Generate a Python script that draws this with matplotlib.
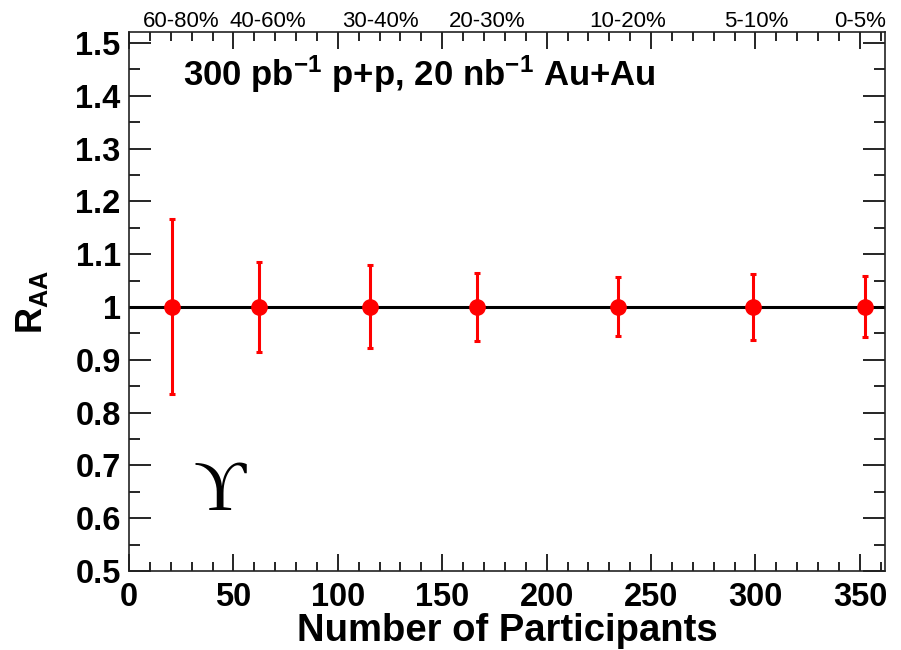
import matplotlib
matplotlib.use("Agg")
import matplotlib.pyplot as plt
from matplotlib.ticker import MultipleLocator

# Npart values of the centrality bins
npart = [20.4, 62.1, 115.4, 166.7, 234.0, 299.0, 352.3]
raa = [1.0, 1.0, 1.0, 1.0, 1.0, 1.0, 1.0]
err_up = [0.166, 0.085, 0.080, 0.065, 0.056, 0.062, 0.059]
err_dn = [0.165, 0.086, 0.078, 0.065, 0.055, 0.062, 0.057]

# centrality labels on top, with their x position in Npart units
cent_labels = ["60-80%", "40-60%", "30-40%", "20-30%", "10-20%", "5-10%", "0-5%"]
cent_pos = [24.9, 66.6, 120.2, 171.5, 239.0, 300.3, 350.0]

plt.rcParams["font.family"] = ["Liberation Sans", "DejaVu Sans"]
plt.rcParams["mathtext.default"] = "regular"

fig = plt.figure(figsize=(9.01, 6.5), dpi=100)
ax = fig.add_axes([0.1432, 0.1215, 0.9822 - 0.1432, 0.9508 - 0.1215])

ax.set_xlim(0, 362)
ax.set_ylim(0.5, 1.521)

ax.axhline(1.0, color="black", lw=2.2, zorder=2)
ax.errorbar(npart, raa, yerr=[err_dn, err_up], fmt="o", color="#ff0000",
            ms=11, elinewidth=2.2, capsize=2.5, capthick=2.2, zorder=3)

ax.xaxis.set_major_locator(MultipleLocator(50))
ax.xaxis.set_minor_locator(MultipleLocator(10))
ax.yaxis.set_major_locator(MultipleLocator(0.1))
ax.yaxis.set_minor_locator(MultipleLocator(0.05))
ax.tick_params(which="both", direction="in", top=True, right=True, width=1.2)
ax.tick_params(axis="x", which="major", length=17 * 0.72, pad=8)
ax.tick_params(axis="x", which="minor", length=9 * 0.72)
ax.tick_params(axis="y", which="major", length=22 * 0.72, pad=6)
ax.tick_params(axis="y", which="minor", length=11 * 0.72)
ax.set_yticks([0.5, 0.6, 0.7, 0.8, 0.9, 1.0, 1.1, 1.2, 1.3, 1.4, 1.5],
              ["0.5", "0.6", "0.7", "0.8", "0.9", "1", "1.1", "1.2", "1.3", "1.4", "1.5"])
for lab in ax.get_xticklabels() + ax.get_yticklabels():
    lab.set_fontsize(23.5)
    lab.set_fontweight("bold")
for sp in ax.spines.values():
    sp.set_linewidth(1.2)
    sp.set_color("#222222")

ax.set_xlabel("Number of Participants", fontsize=27.5, fontweight="bold", labelpad=0)
ax.set_ylabel("R$_{AA}$", fontsize=26, fontweight="bold", labelpad=18)

ax.text(0.0714, 0.90, "300 pb$^{-1}$ p+p, 20 nb$^{-1}$ Au+Au", transform=ax.transAxes,
        fontsize=25, fontweight="bold", va="baseline", ha="left")

for lab, x in zip(cent_labels, cent_pos):
    ax.text(x, 1.009, lab, transform=ax.get_xaxis_transform(), fontsize=16,
            ha="center", va="baseline")

ax.text(0.12, 0.145, "\u03d2", transform=ax.transAxes, fontsize=52,
        family=["Liberation Serif", "DejaVu Serif"], ha="center", va="center")

fig.savefig("out.png", dpi=100)
